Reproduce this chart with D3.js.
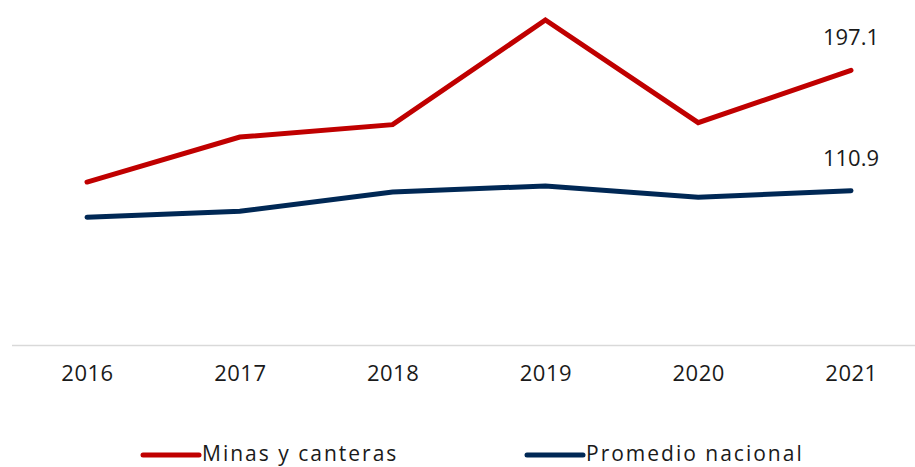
<!DOCTYPE html>
<html lang="es">
<head>
  <meta charset="UTF-8">
  <title>Minas y canteras vs promedio nacional</title>
  <script src="https://d3js.org/d3.v7.min.js"></script>
  <style>
    body {
      margin: 0;
      background-color: #ffffff;
      font-family: "Open Sans", "DejaVu Sans", sans-serif;
    }
  </style>
</head>
<body>
  <script>
    // data
    const years = ["2016", "2017", "2018", "2019", "2020", "2021"];
    const minas = [117.1, 149.3, 158.2, 233.1, 159.6, 197.1];
    const promedio = [91.9, 96.2, 110.0, 114.3, 106.2, 110.9];
    const seriesNames = ["Minas y canteras", "Promedio nacional"];
    const seriesColors = ["#c00000", "#002855"];

    const width = 915, height = 467;
    const font = "'Open Sans', sans-serif";

    const svg = d3.select("body")
        .append("svg")
        .attr("width", width)
        .attr("height", height);

    const x = d3.scalePoint()
        .domain(years)
        .range([87, 851]);

    const y = d3.scaleLinear()
        .domain([0, 250])
        .range([345.6, -3.6]);

    // baseline / category axis
    const xAxis = svg.append("g")
        .attr("transform", `translate(0,${y(0)})`)
        .call(d3.axisBottom(x).tickSize(0).tickPadding(20));
    xAxis.select(".domain").remove();
    xAxis.append("line")
        .attr("x1", 12)
        .attr("x2", 915)
        .attr("stroke", "#d9d9d9")
        .attr("stroke-width", 1.5);
    xAxis.selectAll("text")
        .attr("font-family", font)
        .attr("font-size", 22)
        .attr("letter-spacing", 0.5)
        .attr("fill", "#1a1a1a");

    // lines
    const line = d3.line()
        .x((d, i) => x(years[i]))
        .y(d => y(d));

    [minas, promedio].forEach((vals, k) => {
        svg.append("path")
            .datum(vals)
            .attr("d", line)
            .attr("fill", "none")
            .attr("stroke", seriesColors[k])
            .attr("stroke-width", 5)
            .attr("stroke-linecap", "round")
            .attr("stroke-linejoin", "miter");

        // label on the last point
        const last = vals.length - 1;
        svg.append("text")
            .attr("x", x(years[last]))
            .attr("y", y(vals[last]) - 25)
            .attr("text-anchor", "middle")
            .attr("font-family", font)
            .attr("font-size", 22)
            .attr("fill", "#1a1a1a")
            .text(d3.format(".1f")(vals[last]));
    });

    // legend
    const legendX = [143, 527];
    const legend = svg.selectAll("g.legend")
        .data(seriesNames)
        .enter()
        .append("g")
        .attr("class", "legend")
        .attr("transform", (d, i) => `translate(${legendX[i]},455)`);

    legend.append("line")
        .attr("x1", 0)
        .attr("x2", 56)
        .attr("stroke", (d, i) => seriesColors[i])
        .attr("stroke-width", 5)
        .attr("stroke-linecap", "round");

    legend.append("text")
        .attr("x", 59)
        .attr("y", 6)
        .attr("font-family", font)
        .attr("font-size", 21)
        .attr("letter-spacing", 2)
        .attr("fill", "#1a1a1a")
        .text(d => d);
  </script>
</body>
</html>
